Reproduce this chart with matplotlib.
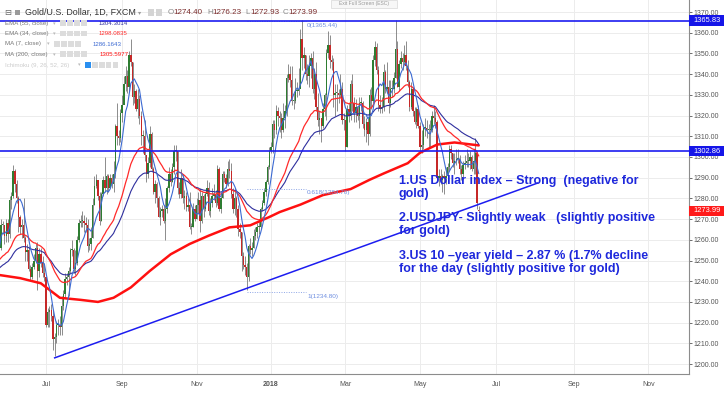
import numpy as np
import pandas as pd
import matplotlib
matplotlib.use('Agg')
import matplotlib.pyplot as plt
import matplotlib.transforms as mtransforms
from matplotlib.patches import Rectangle

plt.rcParams['font.family'] = ['Liberation Sans', 'DejaVu Sans']

W, H = 724, 393

# ---- daily candles (business days from start_date) ----
start_date = '2017-05-25'
first_open = 1252.0
last_open = 1274.40

closes = [
    # May 2017
    1256, 1267, 1267, 1262, 1268,
    # Jun 2017
    1263, 1279, 1281, 1293, 1287, 1280, 1271, 1266, 1267, 1261, 1254, 1255, 1246, 1242, 1247,
    1250, 1256, 1245, 1253, 1249, 1244, 1242,
    # Jul 2017
    1219, 1225, 1226, 1223, 1212, 1213, 1219, 1219, 1218, 1228, 1234, 1241, 1242, 1245, 1255,
    1255, 1246, 1249, 1260, 1268, 1269,
    # Aug 2017
    1269, 1268, 1267, 1257, 1258, 1261, 1277, 1286, 1289, 1281, 1269, 1282, 1289, 1285, 1291,
    1285, 1290, 1287, 1292, 1315, 1310, 1309, 1321,
    # Sep 2017
    1325, 1335, 1339, 1334, 1349, 1346, 1329, 1332, 1323, 1328, 1320, 1310, 1310, 1301, 1292,
    1297, 1311, 1294, 1283, 1287, 1280,
    # Oct 2017
    1271, 1274, 1275, 1269, 1275, 1285, 1292, 1288, 1295, 1303, 1303, 1285, 1282, 1290, 1280,
    1281, 1276, 1277, 1266, 1266, 1275, 1270,
    # Nov 2017
    1277, 1279, 1269, 1281, 1275, 1282, 1285, 1274, 1278, 1281, 1282, 1278, 1294, 1275, 1280,
    1292, 1290, 1287, 1294, 1293, 1282, 1275,
    # Dec 2017
    1280, 1275, 1265, 1264, 1252, 1248, 1247, 1242, 1257, 1255, 1256, 1262, 1264, 1266, 1266,
    1275, 1278, 1283, 1288, 1295, 1303,
    # Jan 2018
    1305, 1316, 1313, 1322, 1320, 1319, 1313, 1319, 1322, 1338, 1340, 1337, 1327, 1327, 1332,
    1332, 1333, 1357, 1348, 1349, 1340, 1339, 1344,
    # Feb 2018
    1348, 1333, 1340, 1324, 1318, 1319, 1315, 1323, 1330, 1350, 1354, 1347, 1346, 1330, 1331,
    1331, 1330, 1333, 1318, 1318,
    # Mar 2018
    1305, 1323, 1320, 1335, 1326, 1321, 1324, 1320, 1326, 1326, 1316, 1313, 1317, 1311, 1330,
    1327, 1347, 1353, 1342, 1325, 1323, 1324,
    # Apr 2018
    1341, 1333, 1334, 1326, 1333, 1333, 1338, 1352, 1334, 1345, 1348, 1346, 1349, 1344, 1336,
    1324, 1333, 1322, 1317, 1323, 1315,
    # May 2018
    1305, 1306, 1314, 1314, 1313, 1313, 1313, 1320, 1319, 1317, 1290, 1291, 1289, 1291, 1290,
    1291, 1295, 1304, 1302, 1297, 1298, 1299, 1299,
    # Jun 2018
    1294, 1292, 1296, 1297, 1298, 1298, 1300, 1294, 1298, 1302, 1278, 1273.99,
]

highs = [
    1259, 1270, 1269, 1267, 1270,
    1270, 1281, 1283, 1296, 1294, 1289, 1281, 1272, 1270, 1280, 1262, 1258, 1257, 1248, 1249,
    1253, 1258, 1259, 1256, 1256, 1252, 1248,
    1242, 1227, 1228, 1229, 1226, 1215, 1221, 1222, 1223, 1233, 1236, 1244, 1244, 1247, 1256,
    1260, 1256, 1255, 1262, 1270, 1272,
    1274, 1272, 1271, 1270, 1261, 1266, 1280, 1291, 1292, 1289, 1283, 1283, 1291, 1300, 1292,
    1292, 1292, 1292, 1298, 1316, 1326, 1313, 1323,
    1330, 1339, 1344, 1342, 1351, 1357, 1346, 1335, 1333, 1333, 1330, 1322, 1313, 1318, 1300,
    1300, 1315, 1312, 1295, 1289, 1288,
    1281, 1276, 1277, 1277, 1280, 1286, 1295, 1294, 1297, 1306, 1306, 1303, 1288, 1294, 1292,
    1284, 1283, 1280, 1283, 1268, 1278, 1277,
    1280, 1283, 1285, 1283, 1282, 1283, 1289, 1288, 1280, 1285, 1287, 1284, 1296, 1295, 1283,
    1293, 1293, 1292, 1298, 1299, 1297, 1285,
    1285, 1281, 1277, 1268, 1264, 1254, 1252, 1249, 1258, 1261, 1259, 1265, 1266, 1268, 1270,
    1276, 1279, 1285, 1289, 1296, 1305,
    1307, 1318, 1318, 1325, 1324, 1322, 1321, 1326, 1325, 1340, 1345, 1344, 1344, 1331, 1338,
    1336, 1343, 1362, 1366, 1353, 1349, 1345, 1349,
    1350, 1351, 1343, 1346, 1331, 1322, 1319, 1326, 1331, 1352, 1361, 1359, 1349, 1348, 1335,
    1335, 1333, 1340, 1336, 1321,
    1318, 1325, 1326, 1337, 1340, 1329, 1328, 1325, 1329, 1329, 1327, 1320, 1319, 1319, 1333,
    1334, 1349, 1356, 1355, 1344, 1330, 1329,
    1345, 1342, 1346, 1337, 1337, 1337, 1341, 1366, 1356, 1347, 1351, 1350, 1354, 1356, 1347,
    1337, 1336, 1334, 1324, 1324, 1325,
    1317, 1313, 1316, 1319, 1318, 1316, 1318, 1322, 1325, 1322, 1318, 1294, 1294, 1292, 1293,
    1295, 1297, 1306, 1306, 1302, 1302, 1304, 1304,
    1301, 1296, 1298, 1301, 1304, 1302, 1303, 1301, 1304, 1309, 1303, 1276.23,
]

lows = [
    1251, 1255, 1263, 1258, 1259,
    1259, 1261, 1275, 1280, 1283, 1278, 1264, 1263, 1261, 1259, 1250, 1250, 1245, 1240, 1241,
    1246, 1249, 1236, 1242, 1247, 1242, 1240,
    1218, 1218, 1218, 1221, 1207, 1204, 1210, 1214, 1214, 1214, 1226, 1232, 1238, 1233, 1244,
    1252, 1244, 1243, 1248, 1259, 1266,
    1266, 1264, 1264, 1254, 1255, 1255, 1261, 1277, 1285, 1279, 1267, 1269, 1281, 1283, 1282,
    1283, 1285, 1285, 1283, 1290, 1306, 1306, 1307,
    1317, 1326, 1332, 1331, 1332, 1344, 1325, 1326, 1322, 1319, 1316, 1306, 1302, 1298, 1288,
    1290, 1295, 1293, 1282, 1278, 1276,
    1271, 1267, 1271, 1268, 1260, 1273, 1283, 1286, 1288, 1292, 1298, 1282, 1280, 1280, 1278,
    1275, 1274, 1274, 1265, 1263, 1266, 1269,
    1270, 1273, 1264, 1268, 1271, 1274, 1281, 1272, 1271, 1276, 1279, 1276, 1277, 1274, 1273,
    1280, 1288, 1285, 1286, 1290, 1280, 1273,
    1272, 1271, 1262, 1261, 1245, 1246, 1243, 1236, 1240, 1253, 1252, 1256, 1260, 1261, 1263,
    1265, 1274, 1277, 1281, 1287, 1294,
    1302, 1302, 1309, 1311, 1315, 1312, 1309, 1312, 1314, 1320, 1336, 1334, 1325, 1323, 1326,
    1329, 1330, 1338, 1342, 1343, 1337, 1335, 1334,
    1338, 1331, 1328, 1322, 1315, 1311, 1307, 1314, 1320, 1318, 1348, 1343, 1342, 1324, 1320,
    1322, 1326, 1329, 1316, 1313,
    1303, 1305, 1317, 1318, 1322, 1317, 1317, 1318, 1314, 1322, 1314, 1310, 1307, 1306, 1310,
    1323, 1326, 1344, 1340, 1322, 1321, 1321,
    1322, 1331, 1331, 1321, 1324, 1329, 1331, 1338, 1334, 1332, 1343, 1342, 1345, 1342, 1334,
    1322, 1323, 1320, 1316, 1314, 1314,
    1302, 1302, 1304, 1310, 1309, 1305, 1305, 1312, 1316, 1314, 1289, 1286, 1287, 1283, 1282,
    1287, 1288, 1293, 1299, 1295, 1292, 1296, 1297,
    1292, 1289, 1290, 1294, 1295, 1295, 1294, 1293, 1292, 1292, 1275, 1272.93,
]

# MA 200 (needs history before the visible window)
ma200_dates = ['2017-05-25', '2017-06-12', '2017-06-28', '2017-07-13', '2017-07-31',
               '2017-08-14', '2017-08-25', '2017-09-08', '2017-09-25', '2017-10-11',
               '2017-10-26', '2017-11-10', '2017-11-28', '2017-12-14', '2017-12-29',
               '2018-01-08', '2018-01-24', '2018-02-12', '2018-03-06', '2018-03-21',
               '2018-04-02', '2018-04-20', '2018-05-01', '2018-05-15', '2018-05-29',
               '2018-06-18']
ma200_vals = [1243, 1241.5, 1239, 1232, 1231, 1230, 1232, 1237, 1245, 1253,
              1258, 1262, 1266, 1267, 1271, 1273.4, 1277, 1281.6, 1284.5, 1289,
              1292, 1297, 1302, 1306, 1307, 1305.6]

# EMA values at the left edge of the window
ema34_seed = 1250.0
ema55_seed = 1246.0

hline_prices = [1365.83, 1302.86]
last_price = 1273.99

trend_dates = ['2017-07-10', '2018-08-03']
trend_prices = [1203.0, 1287.4]

fib_dates = ['2017-12-12', '2018-01-29']
fib_labels = ['0(1365.44)', '0.618(1284.70)', '1(1234.80)']
fib_prices = [1365.44, 1284.70, 1234.80]

month_labels = ['Jul', 'Sep', 'Nov', '2018', 'Mar', 'May', 'Jul', 'Sep', 'Nov']
month_starts = ['2017-07', '2017-09', '2017-11', '2018-01', '2018-03', '2018-05',
                '2018-07', '2018-09', '2018-11']

ohlc_letters = ['O', 'H', 'L', 'C']
ohlc_values = ['1274.40', '1276.23', '1272.93', '1273.99']

legend_names = ['EMA (55, close)', 'EMA (34, close)', 'MA (7, close)', 'MA (200, close)',
                'Ichimoku (9, 26, 52, 26)']
legend_values = ['1304.3014', '1298.0835', '1286.1643', '1305.5977', '']

notes = [
    '1.US Dollar index \u2013 Strong  (negative for',
    'gold)',
    '2.USDJPY- Slightly weak   (slightly positive',
    'for gold)',
    '3.US 10 \u2013year yield \u2013 2.87 % (1.7% decline',
    'for the day (slightly positive for gold)',
]

# ---- colours ----
UP = '#2e7d32'
DOWN = '#c62828'
WICK = '#7a7a7a'
BLUE_LINE = '#1c1cf0'
NOTE_BLUE = '#1e28dc'
C_MA7 = '#3c6ad2'
C_EMA55 = '#2f2f9e'
C_EMA34 = '#ff2a2a'
C_MA200 = '#ff1010'
C_FIB = '#8ea6e6'


def fx(px):
    return px / W


def fy(py):
    return 1 - py / H


bdays = pd.bdate_range(start_date, '2018-12-31')


def idx(d):
    return bdays.searchsorted(pd.Timestamp(d))


c = np.array(closes, dtype=float)
hi = np.array(highs, dtype=float)
lo = np.array(lows, dtype=float)
o = np.r_[first_open, c[:-1]]
o[-1] = last_open
x = np.arange(len(c))

s = pd.Series(c)
ma7 = s.rolling(7, min_periods=1).mean()
ema34 = pd.concat([pd.Series([ema34_seed]), s]).ewm(span=34, adjust=False).mean().iloc[1:]
ema55 = pd.concat([pd.Series([ema55_seed]), s]).ewm(span=55, adjust=False).mean().iloc[1:]

fig = plt.figure(figsize=(W / 100, H / 100), dpi=100)
fig.patch.set_facecolor('white')
ax = fig.add_axes((0, (H - 374) / H, 689 / W, 374 / H))
ax.set_xlim(0.4, 398.5)
ax.set_ylim(1195.2, 1375.8)

# grid / axes
ax.set_axisbelow(True)
ax.grid(True, color='#ececec', lw=0.7)
for side in ['top', 'left']:
    ax.spines[side].set_visible(False)
for side in ['right', 'bottom']:
    ax.spines[side].set_color('#8c8c8c')
    ax.spines[side].set_linewidth(0.8)

ax.yaxis.tick_right()
ax.set_yticks(np.arange(1200, 1371, 10))
ax.set_yticklabels([f'{v:.2f}' for v in np.arange(1200, 1371, 10)])
ax.tick_params(axis='y', labelsize=5, colors='#555555', length=2, width=0.6, pad=1.5)

ax.set_xticks([idx(m + '-01') for m in month_starts])
ax.set_xticklabels(month_labels)
ax.tick_params(axis='x', labelsize=5, colors='#555555', length=0, pad=5)
ax.get_xticklabels()[3].set_fontweight('bold')

# candles
up = c >= o
ax.vlines(x, lo, hi, color=WICK, lw=0.6, zorder=2)
body_bottom = np.minimum(o, c)
body_h = np.maximum(np.abs(c - o), 0.5)
ax.bar(x[up], body_h[up], bottom=body_bottom[up], width=0.8, color=UP, zorder=3)
ax.bar(x[~up], body_h[~up], bottom=body_bottom[~up], width=0.8, color=DOWN, zorder=3)

# moving averages
ax.plot([idx(d) for d in ma200_dates], ma200_vals, color=C_MA200, lw=1.8, zorder=4,
        solid_capstyle='round')
ax.plot(x, ema55, color=C_EMA55, lw=0.8, zorder=4)
ax.plot(x, ema34, color=C_EMA34, lw=0.9, zorder=4)
ax.plot(x, ma7, color=C_MA7, lw=0.8, zorder=4)

# horizontal levels and trendline
for p in hline_prices:
    ax.axhline(p, color=BLUE_LINE, lw=1.2, zorder=5)
ax.plot([idx(d) for d in trend_dates], trend_prices, color=BLUE_LINE, lw=1.1, zorder=5)

# fibonacci retracement
fx0, fx1 = idx(fib_dates[0]), idx(fib_dates[1])
for lab, p in zip(fib_labels, fib_prices):
    ax.plot([fx0, fx1], [p, p], color=C_FIB, lw=0.7, ls=(0, (1, 1.5)), zorder=4)
    ax.annotate(lab, (fx1, p), xytext=(1, -3), textcoords='offset points',
                fontsize=4.6, color='#6f8fe0', va='center', ha='left', zorder=6)

# price labels on the axis
bt = mtransforms.blended_transform_factory(ax.transAxes, ax.transData)
box_w = (W - 689) / 689
box_h = 5.0
for p, col in [(hline_prices[0], '#1515e8'), (hline_prices[1], '#1515e8'),
               (last_price, '#ff1a1a')]:
    ax.add_patch(Rectangle((1.0, p - box_h / 2), box_w, box_h, transform=bt,
                           facecolor=col, edgecolor='none', clip_on=False, zorder=8))
    ax.text(1.0 + 4 / 689, p, f'{p:.2f}', transform=bt, fontsize=5.4, color='white',
            va='center', ha='left', zorder=9, clip_on=False)

# notes
note_y = [181, 194, 218, 231, 256, 269]
for t, py in zip(notes, note_y):
    fig.text(fx(399), fy(py), t, fontsize=9, fontweight='bold', color=NOTE_BLUE,
             va='center', ha='left', zorder=10)

# header
fig.text(fx(4), fy(12.5), '\u229f', fontsize=6, color='#666666', va='center', ha='left',
         family=['DejaVu Sans'])
fig.patches.append(Rectangle((fx(15), fy(15)), 5 / W, 5 / H, transform=fig.transFigure,
                             facecolor='#9a9a9a', edgecolor='none'))
fig.text(fx(25), fy(12.5), 'Gold/U.S. Dollar, 1D, FXCM', fontsize=6.4, color='#333333',
         va='center', ha='left')
fig.text(fx(138), fy(12.5), '\u25be', fontsize=4.5, color='#999999', va='center',
         ha='left', family=['DejaVu Sans'])
for px in [148, 156]:
    fig.patches.append(Rectangle((fx(px), fy(15.5)), 6 / W, 6 / H,
                                 transform=fig.transFigure, facecolor='#d4d4d4',
                                 edgecolor='none'))
ohlc_x = [168, 207, 245, 283]
for px, letter, val in zip(ohlc_x, ohlc_letters, ohlc_values):
    fig.text(fx(px), fy(12.5), letter, fontsize=5.8, color='#888888', va='center', ha='left')
    fig.text(fx(px + 5), fy(12.5), val, fontsize=5.8, color='#7a2c2c', va='center',
             ha='left')

# legend rows
legend_y = [23.3, 33.7, 44, 54.3, 65]
legend_val_x = [99, 99, 93, 100, 0]
legend_icon_x = [60, 60, 54, 60, 85]
legend_colors = [C_EMA55, C_EMA34, C_MA7, C_MA200, None]
for i, (name, val) in enumerate(zip(legend_names, legend_values)):
    py = legend_y[i]
    name_col = '#cccccc' if i == 4 else '#777777'
    fig.text(fx(5), fy(py), name, fontsize=4.4, color=name_col, va='center', ha='left')
    n_icons = 5 if i == 4 else 4
    fig.text(fx(legend_icon_x[i] - 7), fy(py), '\u25be', fontsize=3.8, color='#bbbbbb',
             va='center', ha='left', family=['DejaVu Sans'])
    for k in range(n_icons):
        fc = '#2a8ff0' if (i == 4 and k == 0) else '#dcdcdc'
        fig.patches.append(Rectangle((fx(legend_icon_x[i] + 7 * k), fy(py + 2.7)),
                                     5.5 / W, 5.5 / H, transform=fig.transFigure,
                                     facecolor=fc, edgecolor='none'))
    if val:
        fig.text(fx(legend_val_x[i]), fy(py), val, fontsize=4.4, color=legend_colors[i],
                 va='center', ha='left')

# "Exit Full Screen" tooltip
fig.patches.append(Rectangle((fx(331), fy(7.5)), 66 / W, 7.5 / H, transform=fig.transFigure,
                             facecolor='#f7f7f7', edgecolor='#d8d8d8', lw=0.5))
fig.text(fx(364), fy(3.8), 'Exit Full Screen (ESC)', fontsize=3.6, color='#999999',
         va='center', ha='center')

fig.savefig('out.png', dpi=100)
